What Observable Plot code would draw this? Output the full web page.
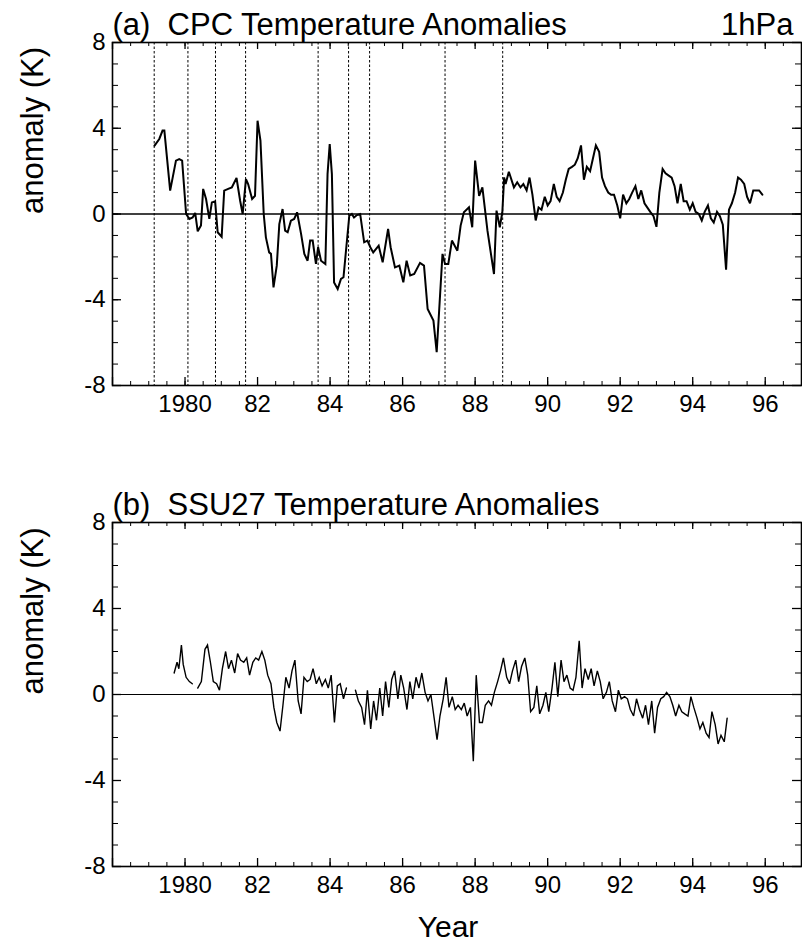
<!DOCTYPE html>
<html><head><meta charset="utf-8">
<script src="https://cdn.jsdelivr.net/npm/d3@7"></script>
<script src="https://cdn.jsdelivr.net/npm/@observablehq/plot@0.6"></script>
<style>
body{margin:0;background:#fff}
svg{display:block}
</style>
</head><body><div id="chart"></div>
<script>
// ---- data ----
const cpcSeries = [
[1979.16,3.19],[1979.29,3.50],[1979.38,3.89],[1979.43,3.89],[1979.59,1.09],[1979.75,2.49],[1979.84,2.56],[1979.92,2.49],
[1980.03,0.00],[1980.12,-0.23],[1980.21,-0.16],[1980.28,0.05],[1980.35,-0.81],[1980.44,-0.54],[1980.50,1.17],[1980.58,0.70],
[1980.67,-0.23],[1980.74,0.54],[1980.83,0.59],[1980.90,-0.85],[1981.01,-1.06],[1981.08,1.09],[1981.19,1.17],[1981.29,1.24],
[1981.42,1.68],[1981.52,0.62],[1981.59,0.00],[1981.68,1.63],[1981.74,1.40],[1981.85,0.70],[1981.93,0.85],[1982.00,4.35],
[1982.08,3.42],[1982.17,0.00],[1982.23,-1.09],[1982.32,-1.79],[1982.37,-1.86],[1982.44,-3.42],[1982.53,-2.41],[1982.60,-0.47],
[1982.69,0.23],[1982.76,-0.78],[1982.83,-0.85],[1982.92,-0.31],[1983.01,-0.23],[1983.09,0.08],[1983.20,-0.93],[1983.29,-1.86],
[1983.38,-2.18],[1983.45,-1.24],[1983.52,-1.24],[1983.61,-2.33],[1983.67,-1.55],[1983.75,-2.18],[1983.87,-2.33],[1983.93,1.86],
[1983.99,3.26],[1984.05,1.86],[1984.11,-3.19],[1984.21,-3.50],[1984.30,-3.03],[1984.37,-2.95],[1984.53,-0.08],[1984.60,0.00],
[1984.66,-0.16],[1984.74,-0.05],[1984.83,0.00],[1984.94,-1.32],[1985.03,-1.24],[1985.11,-1.55],[1985.19,-1.79],[1985.34,-1.48],
[1985.45,-2.25],[1985.60,-0.70],[1985.67,-1.55],[1985.79,-2.49],[1985.91,-2.41],[1986.02,-3.19],[1986.11,-2.18],[1986.21,-2.87],
[1986.32,-2.80],[1986.48,-2.28],[1986.59,-2.41],[1986.69,-4.43],[1986.85,-4.97],[1986.94,-6.45],[1987.10,-1.86],[1987.17,-2.33],
[1987.26,-2.33],[1987.36,-1.24],[1987.51,-1.71],[1987.60,-0.54],[1987.69,0.08],[1987.83,0.31],[1987.92,-0.62],[1988.00,2.49],
[1988.11,0.85],[1988.20,1.24],[1988.34,-0.78],[1988.52,-2.80],[1988.59,0.16],[1988.68,-0.62],[1988.75,0.08],[1988.80,1.71],
[1988.84,1.40],[1988.93,1.97],[1989.07,1.24],[1989.16,1.48],[1989.25,1.24],
[1989.33,1.4],[1989.42,1.1],[1989.50,1.7],[1989.58,0.9],[1989.67,-0.3],[1989.75,0.3],[1989.83,0.2],[1989.92,0.8],
[1990.00,0.4],[1990.08,0.6],[1990.17,1.4],[1990.25,0.8],[1990.33,0.6],[1990.42,1.0],[1990.50,1.6],[1990.58,2.1],
[1990.67,2.2],[1990.75,2.3],[1990.83,2.6],[1990.92,3.2],[1991.00,1.6],[1991.08,2.2],[1991.17,2.0],[1991.25,2.6],
[1991.33,3.2],[1991.42,2.9],[1991.50,1.7],[1991.58,1.3],[1991.67,1.0],[1991.75,0.9],[1991.83,0.9],[1991.92,0.4],
[1992.00,-0.2],[1992.08,0.9],[1992.17,0.5],[1992.25,0.7],[1992.33,1.0],[1992.42,1.3],[1992.50,0.7],[1992.58,1.1],
[1992.67,0.5],[1992.75,0.3],[1992.83,0.1],[1992.92,-0.1],[1993.00,-0.6],[1993.08,1.0],[1993.17,2.1],[1993.25,1.9],
[1993.33,1.8],[1993.42,1.7],[1993.50,1.3],[1993.58,0.5],[1993.67,1.4],[1993.75,0.6],[1993.83,0.6],[1993.92,0.2],
[1994.00,0.5],[1994.08,0.1],[1994.17,0.0],[1994.25,-0.3],[1994.33,0.1],[1994.42,0.4],[1994.50,-0.2],[1994.58,-0.4],
[1994.67,0.1],[1994.75,-0.1],[1994.83,-0.5],[1994.92,-2.6],[1995.00,0.2],[1995.08,0.5],[1995.17,1.0],[1995.25,1.7],
[1995.33,1.6],[1995.42,1.4],[1995.50,0.8],[1995.58,0.5],[1995.67,1.1],[1995.75,1.1],[1995.83,1.1],[1995.92,0.9]
];

const ssuSeries = [
[1979.70,1.0],[1979.78,1.5],[1979.83,1.2],[1979.90,2.3],[1979.95,1.4],[1980.03,0.8],[1980.12,0.6],[1980.20,0.5],
[1980.27,null],
[1980.35,0.3],[1980.45,0.6],[1980.55,2.1],[1980.62,2.3],[1980.70,1.5],[1980.78,0.6],[1980.87,0.5],[1980.95,0.2],
[1981.03,1.2],[1981.12,2.0],[1981.20,1.2],[1981.28,1.6],[1981.37,1.0],[1981.45,1.9],[1981.53,1.6],[1981.62,1.5],
[1981.70,1.7],[1981.78,0.9],[1981.87,1.5],[1981.95,1.7],[1982.03,1.6],[1982.12,2.0],[1982.20,1.6],[1982.28,0.9],
[1982.37,0.5],[1982.45,-0.6],[1982.53,-1.3],[1982.62,-1.7],[1982.70,-0.5],[1982.78,0.8],[1982.87,0.3],[1982.95,1.1],
[1983.03,1.6],[1983.12,-0.3],[1983.20,-0.9],[1983.28,0.8],[1983.37,0.6],[1983.45,0.7],[1983.53,1.2],[1983.62,0.5],
[1983.70,0.8],[1983.78,0.4],[1983.87,0.7],[1983.95,0.3],[1984.03,0.9],[1984.12,-1.3],[1984.20,0.4],[1984.28,0.5],
[1984.37,-0.2],[1984.45,0.3],
[1984.58,null],
[1984.70,0.2],[1984.78,-0.3],[1984.87,-0.6],[1984.95,-1.4],[1985.03,0.2],[1985.12,-1.6],[1985.20,-0.3],[1985.28,-1.2],
[1985.37,0.3],[1985.45,-1.0],[1985.53,0.6],[1985.62,-0.6],[1985.70,0.7],[1985.78,1.1],[1985.87,-0.2],[1985.95,0.9],
[1986.03,0.3],[1986.12,-0.7],[1986.20,0.6],[1986.28,-0.2],[1986.37,0.8],[1986.45,0.3],[1986.53,1.0],[1986.62,0.1],
[1986.70,-0.3],[1986.78,0.0],[1986.87,-1.1],[1986.95,-2.1],[1987.03,-1.0],[1987.12,-0.2],[1987.20,0.8],[1987.28,-0.6],
[1987.37,-0.1],[1987.45,-0.7],[1987.53,-0.5],[1987.62,-0.7],[1987.70,-0.4],[1987.78,-1.0],[1987.87,-0.6],[1987.95,-3.1],
[1988.03,0.9],[1988.12,-1.3],[1988.20,-1.3],[1988.28,-0.5],[1988.37,-0.3],[1988.45,-0.5],[1988.53,0.1],[1988.62,0.6],
[1988.70,1.1],[1988.78,1.7],[1988.87,0.8],[1988.95,0.5],[1989.03,1.1],[1989.12,1.6],[1989.20,0.6],[1989.28,1.3],
[1989.37,1.7],[1989.45,0.9],[1989.53,-0.8],[1989.62,-0.6],[1989.70,0.4],[1989.78,-0.9],[1989.87,-0.5],[1989.95,0.1],
[1990.03,-0.8],[1990.12,0.3],[1990.20,1.5],[1990.28,-0.1],[1990.37,1.6],[1990.45,0.6],[1990.53,0.9],[1990.62,0.3],
[1990.70,0.2],[1990.78,0.8],[1990.87,2.5],[1990.95,0.3],[1991.03,1.2],[1991.12,0.7],[1991.20,1.2],[1991.28,0.4],
[1991.37,1.1],[1991.45,0.6],[1991.53,-0.2],[1991.62,0.1],[1991.70,0.6],[1991.78,-0.3],[1991.87,-0.8],[1991.95,0.2],
[1992.03,-0.2],[1992.12,-0.1],[1992.20,-0.2],[1992.28,-0.7],[1992.37,-1.0],[1992.45,-0.2],[1992.53,-0.7],[1992.62,-1.1],
[1992.70,-0.5],[1992.78,-1.4],[1992.87,-0.3],[1992.95,-1.8],[1993.03,-0.6],[1993.12,-0.2],[1993.20,-0.1],[1993.28,0.1],
[1993.37,-0.1],[1993.45,-0.5],[1993.53,-1.0],[1993.62,-0.5],[1993.70,-0.8],[1993.78,-0.9],[1993.87,-1.0],[1993.95,-0.1],
[1994.03,-0.6],[1994.12,-1.1],[1994.20,-1.6],[1994.28,-1.3],[1994.37,-1.8],[1994.45,-2.0],[1994.53,-0.8],[1994.62,-1.4],
[1994.70,-2.3],[1994.78,-1.9],[1994.87,-2.2],[1994.95,-1.1]
];

// instrument change dates marked in panel (a)
const cpcBreaks = [1979.15, 1980.08, 1980.84, 1981.67, 1983.67, 1984.51, 1985.09, 1987.17, 1988.76];

const xDomain = [1978, 1997];
const xTickValues = [1980, 1982, 1984, 1986, 1988, 1990, 1992, 1994, 1996];
const xTickLabels = ["1980", "82", "84", "86", "88", "90", "92", "94", "96"];
const xMajorTicks = [1978, 1980, 1982, 1984, 1986, 1988, 1990, 1992, 1994, 1996];
const xMinorTicks = d3.range(1978.5, 1997, 0.5);
const yDomain = [-8, 8];
const yTickValues = [-8, -4, 0, 4, 8];
const yTickLabels = ["-8", "-4", "0", "4", "8"];
const yMinorTicks = d3.range(-7, 8, 1);

const panelTitles = ["(a)  CPC Temperature Anomalies", "(b)  SSU27 Temperature Anomalies"];
const levelLabel = "1hPa";
const yLabel = "anomaly (K)";
const xLabel = "Year";

// ---- drawing ----
const FONT = "'Liberation Sans', Arial, Helvetica, sans-serif";
const WIDTH = 802, ML = 112, MR = 1;

function panel({series, title, right, breaks, height, marginTop, marginBottom, lineWidth, zeroWidth, bottomLabel}) {
  const H = height - marginTop - marginBottom;
  const W = WIDTH - ML - MR;
  const data = series.map(([t, v]) => ({t, v}));
  const marks = [
    Plot.ruleY([0], {stroke: "#000", strokeWidth: zeroWidth}),
    Plot.ruleX(breaks || [], {stroke: "#000", strokeWidth: 1, strokeDasharray: "2.5,2"}),
    // inward ticks: bottom, top, left, right
    Plot.tickX(xMinorTicks, {stroke: "#000", strokeWidth: 1, insetTop: H - 4}),
    Plot.tickX(xMajorTicks, {stroke: "#000", strokeWidth: 1.3, insetTop: H - 8}),
    Plot.tickX(xMinorTicks, {stroke: "#000", strokeWidth: 1, insetBottom: H - 4}),
    Plot.tickX(xMajorTicks, {stroke: "#000", strokeWidth: 1.3, insetBottom: H - 7}),
    Plot.tickY(yMinorTicks, {stroke: "#000", strokeWidth: 1, insetRight: W - 6}),
    Plot.tickY(yTickValues, {stroke: "#000", strokeWidth: 1.3, insetRight: W - 9}),
    Plot.tickY(yMinorTicks, {stroke: "#000", strokeWidth: 1, insetLeft: W - 6}),
    Plot.tickY(yTickValues, {stroke: "#000", strokeWidth: 1.3, insetLeft: W - 9}),
    Plot.line(data, {x: "t", y: "v", stroke: "#000", strokeWidth: lineWidth, strokeLinejoin: "miter", strokeMiterlimit: 3}),
    Plot.frame({stroke: "#000", strokeWidth: 1.6}),
    Plot.axisX(xTickValues, {tickSize: 0, tickPadding: 9, fontSize: 24, tickFormat: (d, i) => xTickLabels[i]}),
    Plot.axisY(yTickValues, {tickSize: 0, tickPadding: 7, fontSize: 24, tickFormat: (d, i) => yTickLabels[i]}),
    Plot.text([title], {frameAnchor: "top-left", textAnchor: "start", lineAnchor: "bottom", dy: -8, fontSize: 31}),
    Plot.text([yLabel], {frameAnchor: "left", rotate: -90, dx: -79, fontSize: 31, lineAnchor: "middle"})
  ];
  if (right) marks.push(Plot.text([right], {frameAnchor: "top-right", textAnchor: "end", lineAnchor: "bottom", dx: -8, dy: -8, fontSize: 31}));
  if (bottomLabel) marks.push(Plot.text([bottomLabel], {frameAnchor: "bottom", lineAnchor: "bottom", dx: -9, dy: 70, fontSize: 30}));
  return Plot.plot({
    width: WIDTH, height, marginLeft: ML, marginRight: MR, marginTop, marginBottom,
    x: {domain: xDomain, label: null},
    y: {domain: yDomain, label: null},
    style: {fontFamily: FONT, color: "#000", background: "#fff", whiteSpace: "pre", overflow: "visible"},
    marks
  });
}

const root = document.getElementById("chart");
root.append(panel({series: cpcSeries, title: panelTitles[0], right: levelLabel, breaks: cpcBreaks,
  height: 430, marginTop: 42, marginBottom: 45, lineWidth: 2, zeroWidth: 1.6}));
root.append(panel({series: ssuSeries, title: panelTitles[1], right: null, breaks: [],
  height: 516, marginTop: 92, marginBottom: 80, lineWidth: 1.4, zeroWidth: 1.1, bottomLabel: xLabel}));
</script>
</body></html>
